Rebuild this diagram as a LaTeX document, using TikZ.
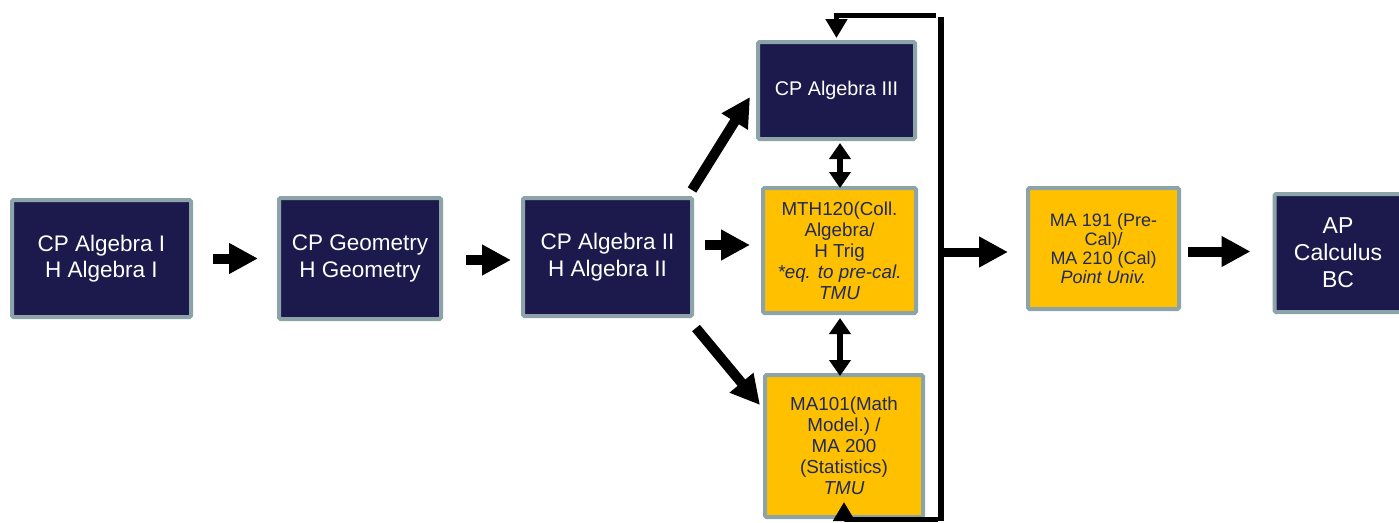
\documentclass[tikz,border=0pt]{standalone}
\usepackage{fontspec}
\setmainfont{Liberation Sans}
\usetikzlibrary{arrows.meta}
\definecolor{navyfill}{HTML}{1C1A4C}
\definecolor{goldfill}{HTML}{FFC000}
\definecolor{boxedge}{HTML}{8CA4A8}
\definecolor{navytext}{HTML}{1F2A5A}
\tikzset{
  basebox/.style={draw=boxedge,line width=4pt,rounded corners=1.5pt,align=center,inner sep=2pt},
  darkbox/.style={basebox,fill=navyfill,text=white},
  goldbox/.style={basebox,fill=goldfill,text=navytext},
  fatarrow/.style={line width=10pt,-{Triangle[length=29pt,width=29pt]}},
  dblarrow/.style={line width=6pt,{Triangle[length=16pt,width=21pt]}-{Triangle[length=16pt,width=21pt]}},
  looparrow/.style={line width=5pt,-{Triangle[length=19pt,width=21pt]}}
}
\newcommand{\BigText}{\fontsize{22.5}{26.5}\selectfont}
\newcommand{\SmallText}{\fontsize{18.8}{21}\selectfont}

\begin{document}
\begin{tikzpicture}[x=1pt,y=-1pt]
  \useasboundingbox (0,0) rectangle (1399,522);
  % first row of courses
  \node[darkbox,minimum width=179pt,minimum height=117pt,font=\BigText] (alg1) at (101.5,258.5)
    {CP Algebra I\\H Algebra I};
  \node[darkbox,minimum width=162pt,minimum height=121pt,font=\BigText] (geo) at (360,258.5)
    {CP Geometry\\H Geometry};
  \node[darkbox,minimum width=169pt,minimum height=118pt,font=\BigText] (alg2) at (607.5,257)
    {CP Algebra II\\H Algebra II};
  % the three choices after Algebra II
  \node[darkbox,minimum width=157pt,minimum height=97pt,font=\fontsize{19.8}{22}\selectfont] (alg3) at (836.5,90.5)
    {CP Algebra III};
  \node[goldbox,minimum width=153pt,minimum height=125pt,font=\SmallText] (mth) at (839.5,250.5)
    {MTH120(Coll.\\Algebra/\\H Trig\\\textit{*eq. to pre-cal.}\\\textit{TMU}};
  \node[goldbox,minimum width=158pt,minimum height=142pt,font=\SmallText] (ma101) at (844,446)
    {MA101(Math\\Model.)~/\\MA 200\\(Statistics)\\\textit{TMU}};
  % last steps
  \node[goldbox,minimum width=151pt,minimum height=121pt,font=\fontsize{18}{19}\selectfont] (ma191) at (1103.5,248.5)
    {MA 191 (Pre-\\Cal)/\\MA 210 (Cal)\\\textit{Point Univ.}};
  \node[darkbox,minimum width=127pt,minimum height=118pt,font=\fontsize{23}{27}\selectfont] (apbc) at (1338,253)
    {AP\\Calculus\\BC};

  \draw[fatarrow] ([xshift=20pt]alg1.east) -- ([xshift=-19pt]geo.west);
  \draw[fatarrow] ([xshift=23pt,yshift=-1.5pt]geo.east) -- ([xshift=-10pt,yshift=-3pt]alg2.west);
  \draw[fatarrow] ([xshift=11pt,yshift=12pt]alg2.east) -- ([xshift=-11pt,yshift=12pt]alg2.east -| mth.west);
  \draw[fatarrow] ([xshift=-2pt,yshift=6pt]alg2.north east) -- ([xshift=-6pt,yshift=-6.5pt]alg3.west);
  \draw[fatarrow] ([xshift=2pt,yshift=-10pt]alg2.south east) -- ([xshift=-3pt,yshift=-32pt]ma101.north west);

  \draw[dblarrow] ([xshift=3.5pt,yshift=-2pt]alg3.south) -- ([xshift=0.5pt,yshift=-2pt]mth.north);
  \draw[dblarrow] ([xshift=0.5pt,yshift=-3pt]mth.south) -- ([xshift=0.5pt,yshift=-3pt]mth.south |- ma101.north);

  % the bar that gathers the three choices
  \coordinate (bartop) at (941,17);
  \coordinate (barbot) at (941,521);
  \coordinate (barmid) at (944,252);
  \draw[line width=6pt] (bartop) -- (barbot);
  \draw[looparrow] (936,15) -| ([yshift=2pt]alg3.north);
  \draw[looparrow] (938,519) -| ([yshift=17pt]ma101.south);
  \draw[fatarrow,line width=9pt] (barmid) -- ([xshift=-18pt]ma191.west |- barmid);
  \draw[fatarrow] ([xshift=7pt,yshift=-3pt]ma191.east) -- ([xshift=-22pt,yshift=1.5pt]apbc.west);
\end{tikzpicture}
\end{document}
